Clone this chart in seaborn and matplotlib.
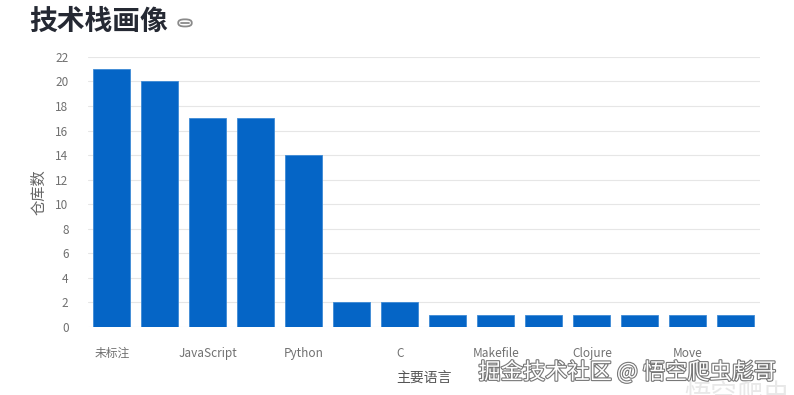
import matplotlib
matplotlib.use("Agg")
import matplotlib.pyplot as plt
import matplotlib.patheffects as pe
from matplotlib.patches import FancyBboxPatch
import pandas as pd
import seaborn as sns

# languages (every other label is hidden in the original chart)
languages = ["未标注", "TypeScript", "JavaScript", "Go", "Python", "Java", "C",
             "Shell", "Makefile", "HTML", "Clojure", "Rust", "Move", "Vue"]
repo_counts = [21, 20, 17, 17, 14, 2, 2, 1, 1, 1, 1, 1, 1, 1]
y_ticks = list(range(0, 23, 2))

sns.set_theme(style="white")
plt.rcParams["font.family"] = ["Noto Sans CJK SC", "DejaVu Sans"]

df = pd.DataFrame({"lang": languages, "count": repo_counts})

fig = plt.figure(figsize=(7.94, 3.95), dpi=100)
ax = fig.add_axes([0.1108, 0.172, 0.8462, 0.684])

sns.barplot(data=df, x="lang", y="count", color="#0565c6", width=0.77,
            saturation=1, edgecolor="#3d8ad6", linewidth=0.6, ax=ax, zorder=3)

ax.set_xlim(-0.5, len(languages) - 0.5)
ax.set_ylim(0, 22)
ax.set_yticks(y_ticks)
ax.set_yticklabels([str(t) for t in y_ticks])
ax.yaxis.grid(True, color="#e6e6e6", linewidth=0.8, zorder=0)
ax.set_axisbelow(True)
for s in ax.spines.values():
    s.set_visible(False)

shown = list(range(0, len(languages), 2))
ax.set_xticks(shown)
ax.set_xticklabels([languages[i] for i in shown])
ax.tick_params(axis="x", length=0, pad=14, labelsize=8.5, labelcolor="#707070")
ax.tick_params(axis="y", length=0, pad=14, labelsize=8.5, labelcolor="#707070")

ax.set_xlabel("主要语言", fontsize=10, color="#555555", labelpad=8)
ax.set_ylabel("仓库数", fontsize=11, color="#666666", labelpad=6)

# title and link icon
fig.text(0.037, 0.944, "技术栈画像", fontsize=20, fontweight="bold",
         color="#252933", va="center", ha="left")
icon = FancyBboxPatch((0.2245, 0.933), 0.017, 0.018,
                      boxstyle="round,pad=0,rounding_size=0.008",
                      transform=fig.transFigure, fill=False,
                      edgecolor="#8a8a8a", linewidth=1.3)
fig.add_artist(icon)
fig.lines.append(plt.Line2D([0.2285, 0.2375], [0.942, 0.942],
                            transform=fig.transFigure, color="#8a8a8a",
                            linewidth=1.3))

# watermark
fig.text(0.978, 0.058, "掘金技术社区 @ 悟空爬虫彪哥", fontsize=16, color="white",
         ha="right", va="center",
         path_effects=[pe.withStroke(linewidth=1.6, foreground="#777777")])
fig.text(0.995, 0.0, "悟空爬虫", fontsize=19, color="#e8e8e8",
         ha="right", va="center")

fig.savefig("out.png", dpi=100)
